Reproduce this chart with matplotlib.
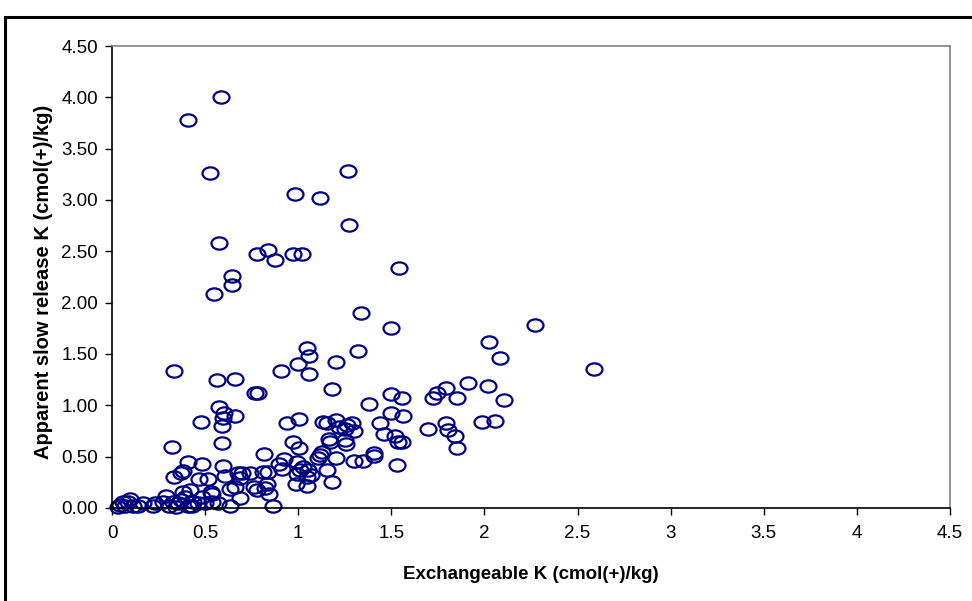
import numpy as np
import matplotlib
matplotlib.use("Agg")
import matplotlib.pyplot as plt
from matplotlib.path import Path
from matplotlib.patches import Rectangle
from matplotlib.transforms import Affine2D

# values
exch_k = [
    0.587, 0.41, 0.526, 0.985, 1.117, 1.266, 1.27, 0.576,
    0.78, 0.84, 0.875, 0.97, 1.02,
    0.646, 0.646, 0.55,
    1.54, 1.336, 1.497,
    1.046, 1.058, 0.997, 0.906, 1.058, 1.203, 1.323,
    1.18, 1.497, 1.556, 0.768, 0.786,
    2.273, 2.023, 2.082, 2.587, 1.914, 2.021, 1.794, 1.747, 1.726, 1.853, 2.105,
    1.497, 1.565, 1.44, 1.794, 1.695, 1.806, 1.842, 1.853, 1.985, 2.057,
    1.461, 1.52, 1.538, 1.556, 1.529,
    1.382,
    0.938, 1.004, 1.135, 1.156, 1.203, 1.221, 1.26, 1.29, 1.30, 1.251,
    1.167, 1.171, 1.251, 1.254,
    0.974, 1.006, 0.816,
    1.126, 1.117, 1.105, 1.203, 1.30, 1.35, 1.407, 1.409,
    0.924, 0.897, 0.911, 0.813, 0.84,
    0.995, 1.027, 1.054, 1.01, 1.069, 0.992, 1.046, 1.153, 1.183, 0.988, 1.046,
    0.741, 0.76, 0.777, 0.83, 0.82, 0.843, 0.863,
    0.335, 0.562, 0.66, 0.575, 0.60, 0.598, 0.66, 0.48, 0.589, 0.589, 0.32,
    0.41, 0.485, 0.598, 0.383, 0.37, 0.335, 0.467, 0.514, 0.607, 0.678, 0.696,
    0.687, 0.634, 0.66, 0.686, 0.532, 0.383, 0.419, 0.288, 0.634, 0.539, 0.567,
    0.50, 0.482, 0.437, 0.463, 0.43, 0.41, 0.392, 0.37, 0.356, 0.33, 0.306,
    0.344, 0.276, 0.231, 0.222, 0.168, 0.141, 0.097, 0.084, 0.07, 0.043, 0.034,
    0.114, 0.061, 0.539,
]
slow_k = [
    4.00, 3.78, 3.26, 3.06, 3.02, 3.28, 2.76, 2.58,
    2.47, 2.51, 2.42, 2.47, 2.47,
    2.26, 2.17, 2.08,
    2.34, 1.90, 1.75,
    1.555, 1.48, 1.40, 1.33, 1.31, 1.42, 1.53,
    1.16, 1.11, 1.07, 1.12, 1.12,
    1.78, 1.62, 1.46, 1.35, 1.22, 1.19, 1.17, 1.12, 1.07, 1.07, 1.05,
    0.93, 0.90, 0.83, 0.83, 0.77, 0.76, 0.70, 0.58, 0.84, 0.85,
    0.72, 0.70, 0.64, 0.64, 0.42,
    1.01,
    0.83, 0.87, 0.84, 0.83, 0.86, 0.79, 0.81, 0.83, 0.75, 0.77,
    0.67, 0.64, 0.66, 0.62,
    0.64, 0.58, 0.53,
    0.55, 0.52, 0.49, 0.49, 0.46, 0.46, 0.54, 0.51,
    0.48, 0.43, 0.38, 0.35, 0.35,
    0.45, 0.40, 0.37, 0.37, 0.32, 0.33, 0.30, 0.37, 0.25, 0.23, 0.21,
    0.34, 0.20, 0.18, 0.23, 0.19, 0.14, 0.02,
    1.33, 1.25, 1.26, 0.98, 0.93, 0.88, 0.90, 0.84, 0.80, 0.63, 0.59,
    0.45, 0.43, 0.41, 0.36, 0.34, 0.30, 0.28, 0.28, 0.31, 0.34, 0.34,
    0.29, 0.185, 0.20, 0.10, 0.16, 0.16, 0.175, 0.12, 0.02, 0.06, 0.045,
    0.045, 0.11, 0.06, 0.045, 0.02, 0.02, 0.11, 0.08, 0.045, 0.06, 0.02,
    0.01, 0.06, 0.045, 0.02, 0.05, 0.02, 0.09, 0.06, 0.02, 0.03, 0.01,
    0.02, 0.06, 0.14,
]

x_ticks = [0, 0.5, 1, 1.5, 2, 2.5, 3, 3.5, 4, 4.5]
x_tick_labels = ["0", "0.5", "1", "1.5", "2", "2.5", "3", "3.5", "4", "4.5"]
y_ticks = [0, 0.5, 1.0, 1.5, 2.0, 2.5, 3.0, 3.5, 4.0, 4.5]

plt.rcParams['font.family'] = ['Liberation Sans', 'DejaVu Sans']

fig = plt.figure(figsize=(9.72, 6.01), dpi=100)
ax = fig.add_axes([112 / 972, 1 - 508 / 601, 838 / 972, 462 / 601])

# flat ellipse marker like the Excel one
ell = Path.unit_circle().transformed(Affine2D().scale(1.3, 1.0))
ax.plot(exch_k, slow_k, linestyle='none', marker=ell, markersize=11.5,
        markerfacecolor='none', markeredgecolor='#000080', markeredgewidth=1.6,
        clip_on=False)

ax.set_xlim(0, 4.5)
ax.set_ylim(0, 4.5)
ax.set_xticks(x_ticks)
ax.set_xticklabels(x_tick_labels)
ax.set_yticks(y_ticks)
ax.set_yticklabels(["%.2f" % v for v in y_ticks])
ax.tick_params(direction='out', length=5, width=1, labelsize=13.5, colors='black')
ax.tick_params(axis='x', pad=7)
ax.tick_params(axis='y', pad=5)

for side in ['top', 'right']:
    ax.spines[side].set_color('#808080')
    ax.spines[side].set_linewidth(1.2)
for side in ['left', 'bottom']:
    ax.spines[side].set_color('black')
    ax.spines[side].set_linewidth(1.2)

ax.set_xlabel("Exchangeable K (cmol(+)/kg)", fontsize=13.5, fontweight='bold')
ax.set_ylabel("Apparent slow release K (cmol(+)/kg)", fontsize=14.5, fontweight='bold')
ax.xaxis.set_label_coords(0.5, -0.125)
ax.yaxis.set_label_coords(-0.07, 0.49)

# outer chart border
fig.patches.append(Rectangle((5 / 972, -0.1), 1.2, 1.1 - 17 / 601, transform=fig.transFigure,
                             fill=False, edgecolor='black', linewidth=2.2))

fig.savefig("out.png", dpi=100)
